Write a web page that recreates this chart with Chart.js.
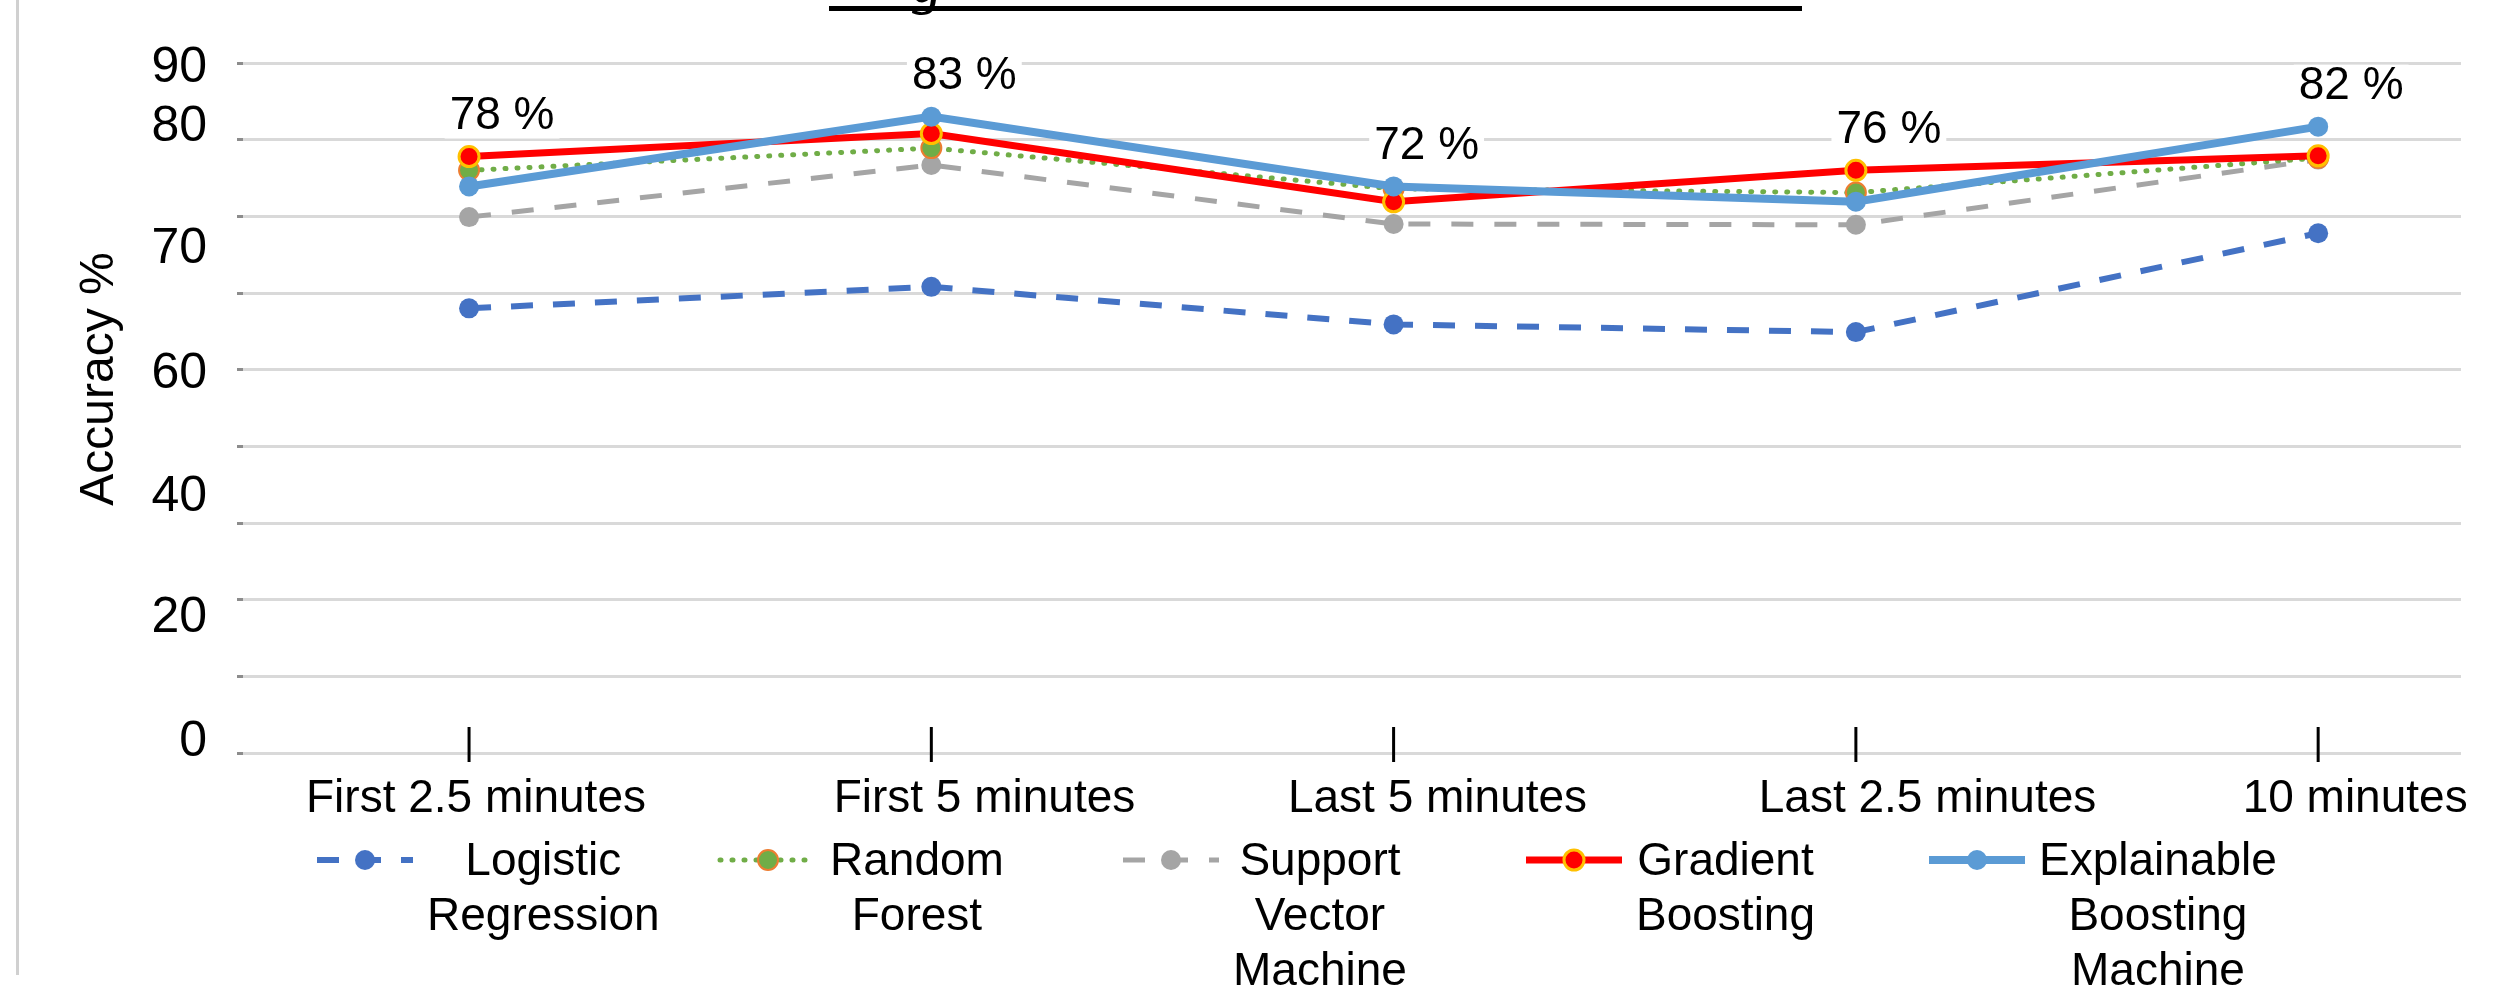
<!DOCTYPE html>
<html>
<head>
<meta charset="utf-8">
<script src="https://cdn.jsdelivr.net/npm/chart.js@4.4.1/dist/chart.umd.min.js"></script>
<style>
  html, body { margin: 0; padding: 0; background: #fff; }
</style>
</head>
<body>
<canvas id="accChart" width="2501" height="985"></canvas>
<script>
const categories = ['First 2.5 minutes', 'First 5 minutes', 'Last 5 minutes', 'Last 2.5 minutes', '10 minutes'];

const logisticRegression = [58.0, 60.8, 55.9, 54.9, 67.8];
const randomForest = [76.0, 78.9, 73.6, 73.1, 77.6];
const supportVectorMachine = [69.9, 76.7, 69.0, 68.9, 77.4];
const gradientBoosting = [77.8, 80.8, 71.9, 76.0, 77.9];
const explainableBoosting = [73.9, 83.0, 73.9, 71.9, 81.7];

const highlightLabels = ['78 %', '83 %', '72 %', '76 %', '82 %'];

const legendLabels = [
    ['Logistic', 'Regression'],
    ['Random', 'Forest'],
    ['Support', 'Vector', 'Machine'],
    ['Gradient', 'Boosting'],
    ['Explainable', 'Boosting', 'Machine']
];

// grid runs 0..90 in steps of 10, but the label column of the figure sits off the grid
const yGridValues = [0, 10, 20, 30, 40, 50, 60, 70, 80, 90];
const yTickLabels = ['0', '20', '40', '60', '70', '80', '90'];
const yTickLabelAt = [2, 18.2, 34, 50, 66.3, 82.3, 90];
// category names sit a little right of their tick marks in the figure
const xLabelNudge = [0.015, 0.115, 0.095, 0.155, 0.08];

const FONT = '"Liberation Sans", Arial, sans-serif';

const toPoints = vals => vals.map((v, i) => ({ x: i, y: v }));

const seriesStyle = [
    { label: 'Logistic Regression', data: logisticRegression, color: '#4472C4', width: 6, dash: [22, 20], fill: '#4472C4', border: '#4472C4', bw: 0, r: 10, order: 4 },
    { label: 'Random Forest', data: randomForest, color: '#70AD47', width: 5, dash: [1, 11], cap: 'round', fill: '#70AD47', border: '#ED7D31', bw: 2, r: 10, order: 2 },
    { label: 'Support Vector Machine', data: supportVectorMachine, color: '#A5A5A5', width: 5, dash: [22, 21], fill: '#A5A5A5', border: '#A5A5A5', bw: 0, r: 10, order: 3 },
    { label: 'Gradient Boosting', data: gradientBoosting, color: '#FF0000', width: 7, dash: [], fill: '#FF0000', border: '#FFC000', bw: 3, r: 10, order: 1 },
    { label: 'Explainable Boosting Machine', data: explainableBoosting, color: '#5B9BD5', width: 8, dash: [], fill: '#5B9BD5', border: '#5B9BD5', bw: 0, r: 10, order: 0 }
];

const extras = {
    id: 'extras',
    beforeDraw(chart) {
        const { ctx, chartArea } = chart;
        ctx.save();
        // frame line on the left and the cut-off heading above
        ctx.fillStyle = '#d0d0d0';
        ctx.fillRect(16, 0, 3, 975);
        ctx.fillStyle = '#000';
        ctx.fillRect(829, 6, 973, 5);
        ctx.font = 'italic 60px "Liberation Serif", serif';
        ctx.textBaseline = 'alphabetic';
        ctx.fillText('g', 912, 2);
        // y axis title
        ctx.translate(100, (chartArea.top + chartArea.bottom) / 2 - 29);
        ctx.rotate(-Math.PI / 2);
        ctx.font = '48px ' + FONT;
        ctx.textAlign = 'center';
        ctx.textBaseline = 'middle';
        ctx.fillText('Accuracy %', 0, 0);
        ctx.restore();
    },
    afterDatasetsDraw(chart) {
        const { ctx, chartArea, scales: { x, y } } = chart;
        ctx.save();
        // x tick marks
        ctx.strokeStyle = '#000';
        ctx.lineWidth = 3;
        categories.forEach((c, i) => {
            const px = x.getPixelForValue(i);
            ctx.beginPath();
            ctx.moveTo(px, chartArea.bottom - 26);
            ctx.lineTo(px, chartArea.bottom + 9);
            ctx.stroke();
        });
        // value labels over each group
        ctx.font = '46px ' + FONT;
        ctx.textAlign = 'center';
        ctx.textBaseline = 'middle';
        highlightLabels.forEach((txt, i) => {
            const top = Math.max(...chart.data.datasets.map(d => d.data[i].y));
            const px = x.getPixelForValue(i) + 33;
            const py = y.getPixelForValue(top) - 40;
            const w = ctx.measureText(txt).width;
            ctx.fillStyle = '#fff';
            ctx.fillRect(px - w / 2 - 5, py - 22, w + 10, 44);
            ctx.fillStyle = '#000';
            ctx.fillText(txt, px, py);
        });
        ctx.restore();
    },
    afterDraw(chart) {
        const { ctx, chartArea } = chart;
        const startX = chartArea.left + 74, step = 403, cy = chartArea.bottom + 107;
        ctx.save();
        ctx.font = '46px ' + FONT;
        ctx.textAlign = 'center';
        ctx.textBaseline = 'middle';
        chart.data.datasets.forEach((ds, i) => {
            const sx = startX + i * step;
            ctx.strokeStyle = ds.borderColor;
            ctx.lineWidth = ds.borderWidth;
            ctx.lineCap = ds.borderCapStyle || 'butt';
            ctx.setLineDash(ds.borderDash || []);
            ctx.beginPath();
            ctx.moveTo(sx, cy);
            ctx.lineTo(sx + 96, cy);
            ctx.stroke();
            ctx.setLineDash([]);
            ctx.beginPath();
            ctx.arc(sx + 48, cy, ds.pointRadius, 0, Math.PI * 2);
            ctx.fillStyle = ds.pointBackgroundColor;
            ctx.fill();
            if (ds.pointBorderWidth) {
                ctx.lineWidth = ds.pointBorderWidth;
                ctx.strokeStyle = ds.pointBorderColor;
                ctx.stroke();
            }
            const lines = legendLabels[i];
            const maxW = Math.max(...lines.map(l => ctx.measureText(l).width));
            const tx = sx + 110 + maxW / 2;
            ctx.fillStyle = '#000';
            lines.forEach((l, k) => ctx.fillText(l, tx, cy + 2 + k * 55));
        });
        ctx.restore();
    }
};

new Chart(document.getElementById('accChart').getContext('2d'), {
    type: 'line',
    data: {
        datasets: seriesStyle.map(s => ({
            label: s.label,
            data: toPoints(s.data),
            borderColor: s.color,
            backgroundColor: s.color,
            borderWidth: s.width,
            borderDash: s.dash,
            borderCapStyle: s.cap || 'butt',
            pointRadius: s.r,
            pointBackgroundColor: s.fill,
            pointBorderColor: s.border,
            pointBorderWidth: s.bw,
            tension: 0,
            fill: false,
            order: s.order
        }))
    },
    options: {
        responsive: false,
        devicePixelRatio: 1,
        animation: false,
        layout: { padding: { left: 0, right: 40, top: 63, bottom: 0 } },
        plugins: {
            legend: { display: false },
            tooltip: { enabled: false }
        },
        scales: {
            x: {
                type: 'linear',
                min: -0.489,
                max: 4.309,
                afterBuildTicks: scale => {
                    scale.ticks = categories.map((c, i) => ({ value: i + xLabelNudge[i] }));
                },
                afterFit: scale => { scale.height = 232; },
                grid: { display: false },
                border: { display: false },
                ticks: {
                    autoSkip: false,
                    maxRotation: 0,
                    padding: 11,
                    color: '#000',
                    font: { family: FONT, size: 46 },
                    callback: v => categories[Math.round(v)]
                }
            },
            y: {
                min: 0,
                max: 90,
                afterBuildTicks: scale => {
                    const vals = [...new Set([...yGridValues, ...yTickLabelAt])].sort((a, b) => a - b);
                    scale.ticks = vals.map(v => ({ value: v }));
                },
                afterFit: scale => { scale.width = 243; },
                border: { display: false },
                grid: {
                    color: ctx => yGridValues.includes(ctx.tick.value) ? '#d9d9d9' : 'rgba(0,0,0,0)',
                    lineWidth: 3,
                    tickColor: ctx => yGridValues.includes(ctx.tick.value) ? '#8c8c8c' : 'rgba(0,0,0,0)',
                    tickLength: 6,
                    tickWidth: 3
                },
                ticks: {
                    autoSkip: false,
                    padding: 30,
                    labelOffset: 5,
                    color: '#000',
                    font: { family: FONT, size: 50 },
                    callback: v => {
                        const i = yTickLabelAt.indexOf(v);
                        return i >= 0 ? yTickLabels[i] : '';
                    }
                }
            }
        }
    },
    plugins: [extras]
});
</script>
</body>
</html>
